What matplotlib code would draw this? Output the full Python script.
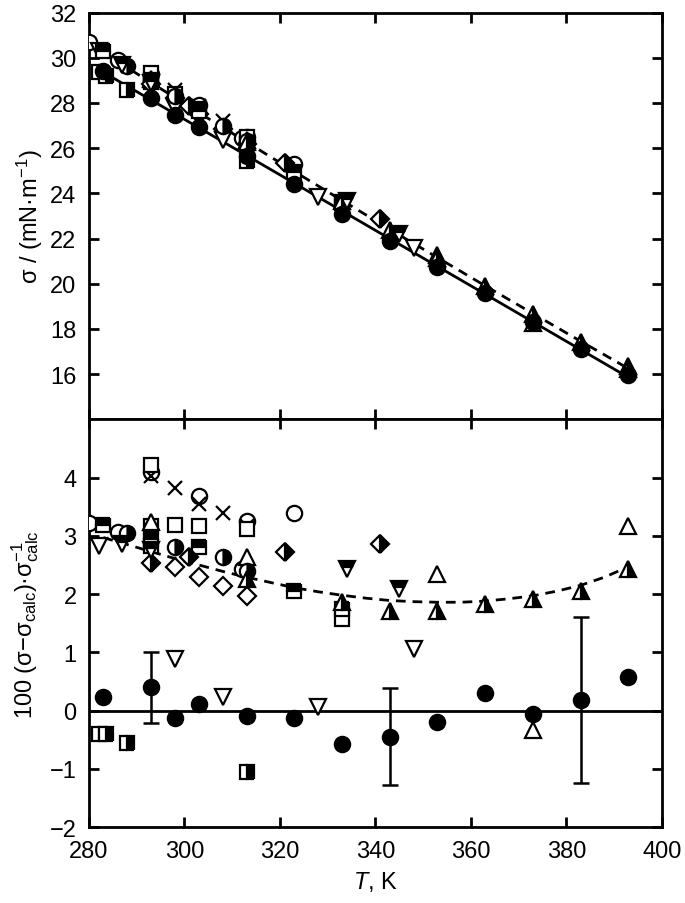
import numpy as np
import matplotlib.pyplot as plt

plt.rcParams['font.family'] = ['Liberation Sans', 'DejaVu Sans']
plt.rcParams['mathtext.fontset'] = 'custom'
plt.rcParams['mathtext.rm'] = 'Liberation Sans'
plt.rcParams['mathtext.it'] = 'Liberation Sans:italic'
plt.rcParams['font.size'] = 17

# fitted line sigma_calc (solid) and second fit (dashed), top panel
line_T = [283, 393]
line_sigma = [29.36, 15.86]
dash_T = [283, 303, 323, 343, 363, 383, 393]
dash_sigma = [30.23, 27.57, 24.97, 22.41, 19.91, 17.46, 16.25]

# dashed curve in deviation panel
dev_curve_T = [283, 288, 293, 298, 303, 308, 313, 318, 323, 328, 333, 338,
               343, 348, 353, 358, 363, 368, 373, 378, 383, 388, 393]
dev_curve = [2.97, 2.85, 2.73, 2.61, 2.50, 2.39, 2.29, 2.20, 2.11, 2.04, 1.98, 1.93,
             1.89, 1.87, 1.86, 1.86, 1.88, 1.92, 1.97, 2.05, 2.15, 2.29, 2.47]

# this work (filled circles)
fc_T = [283, 293, 298, 303, 313, 323, 333, 343, 353, 363, 373, 383, 393]
fc_sigma = [29.43, 28.24, 27.48, 26.93, 25.66, 24.42, 23.09, 21.89, 20.73, 19.60, 18.30, 17.12, 15.95]
fc_dev = [0.23, 0.40, -0.13, 0.11, -0.09, -0.13, -0.57, -0.45, -0.20, 0.30, -0.06, 0.18, 0.57]
err_T = [293, 343, 383]
err_dev = [0.40, -0.45, 0.18]
err_size = [0.61, 0.83, 1.42]

# literature sets
oc_T = [280, 286, 293, 303, 312, 313, 323]
oc_sigma = [30.69, 29.88, 29.28, 27.89, 26.46, 26.51, 25.28]
oc_dev = [3.22, 3.06, 4.09, 3.69, 2.43, 3.25, 3.39]

hc_T = [288, 298, 308, 313]
hc_sigma = [29.62, 28.29, 26.98, 26.30]
hc_dev = [3.05, 2.80, 2.63, 2.40]

x_T = [293, 298, 303, 308, 313]
x_sigma = [29.26, 28.57, 27.85, 27.18, 26.49]
x_dev = [4.03, 3.83, 3.55, 3.40, 3.17]

os_T = [293, 293, 298, 303, 313, 333]
os_sigma = [29.32, 29.02, 28.40, 27.75, 26.48, 23.58]
os_dev = [4.22, 3.17, 3.18, 3.17, 3.12, 1.57]

ts_T = [283, 293, 293, 303, 323, 333]
ts_sigma = [30.29, 28.96, 28.93, 27.65, 24.95, 23.63]
ts_dev = [3.18, 2.95, 2.83, 2.80, 2.06, 1.75]

rs_T = [282, 283.5, 288, 313]
rs_sigma = [29.36, 29.18, 28.58, 25.41]
rs_dev = [-0.40, -0.40, -0.55, -1.06]

od_T = [298, 303, 308, 313]
od_sigma = [28.20, 27.52, 26.85, 26.19]
od_dev = [2.46, 2.29, 2.14, 1.97]

hd_T = [293, 301, 321, 341]
hd_sigma = [28.84, 27.86, 25.36, 22.88]
hd_dev = [2.54, 2.63, 2.73, 2.86]

ot_T = [293, 313, 353, 373, 393]
ot_sigma = [29.04, 26.36, 21.26, 18.25, 16.36]
ot_dev = [3.23, 2.63, 2.34, -0.34, 3.17]

ht_T = [313, 333, 343, 353, 363, 373, 383, 393]
ht_sigma = [26.26, 23.65, 22.37, 21.13, 19.90, 18.66, 17.44, 16.25]
ht_dev = [2.26, 1.86, 1.71, 1.71, 1.83, 1.91, 2.06, 2.43]

odt_T = [282, 298, 308, 328, 348]
odt_sigma = [30.31, 27.76, 26.35, 23.85, 21.60]
odt_dev = [2.82, 0.88, 0.24, 0.06, 1.05]

hdt_T = [287, 293, 334, 345]
hdt_sigma = [29.70, 28.90, 23.66, 22.20]
hdt_dev = [2.86, 2.75, 2.43, 2.09]

fig = plt.figure(figsize=(6.85, 9.04), dpi=100)
ax1 = fig.add_axes([0.130, 0.535, 0.836, 0.450])
ax2 = fig.add_axes([0.130, 0.084, 0.836, 0.451])

mw = 1.6
styles = [
    (oc_T, oc_sigma, oc_dev, dict(marker='o', ms=11, mfc='white', mec='k', mew=mw)),
    (x_T, x_sigma, x_dev, dict(marker='x', ms=10, mec='k', mew=mw)),
    (os_T, os_sigma, os_dev, dict(marker='s', ms=10, mfc='white', mec='k', mew=mw)),
    (od_T, od_sigma, od_dev, dict(marker='D', ms=9, mfc='white', mec='k', mew=mw)),
    (ot_T, ot_sigma, ot_dev, dict(marker='^', ms=11, mfc='white', mec='k', mew=mw)),
    (odt_T, odt_sigma, odt_dev, dict(marker='v', ms=11, mfc='white', mec='k', mew=mw)),
    (ts_T, ts_sigma, ts_dev, dict(marker='s', ms=10, fillstyle='top', mfc='k', mfcalt='white', mec='k', mew=mw)),
    (rs_T, rs_sigma, rs_dev, dict(marker='s', ms=10, fillstyle='right', mfc='k', mfcalt='white', mec='k', mew=mw)),
    (hd_T, hd_sigma, hd_dev, dict(marker='D', ms=9, fillstyle='right', mfc='k', mfcalt='white', mec='k', mew=mw)),
    (hc_T, hc_sigma, hc_dev, dict(marker='o', ms=11, fillstyle='right', mfc='k', mfcalt='white', mec='k', mew=mw)),
    (ht_T, ht_sigma, ht_dev, dict(marker='^', ms=11, fillstyle='right', mfc='k', mfcalt='white', mec='k', mew=mw)),
    (hdt_T, hdt_sigma, hdt_dev, dict(marker='v', ms=11, fillstyle='top', mfc='k', mfcalt='white', mec='k', mew=mw)),
    (fc_T, fc_sigma, fc_dev, dict(marker='o', ms=11, mfc='k', mec='k', mew=mw)),
]

# top panel
ax1.plot(line_T, line_sigma, '-', color='k', lw=2, zorder=1)
ax1.plot(dash_T, dash_sigma, '--', color='k', lw=2, dashes=(3.5, 2.5), zorder=1)
for T, s, d, kw in styles:
    ax1.plot(T, s, ls='none', zorder=3, **kw)

# bottom panel
ax2.axhline(0, color='k', lw=2, zorder=1)
ax2.plot(dev_curve_T, dev_curve, '--', color='k', lw=2, dashes=(3.5, 2.5), zorder=1)
ax2.errorbar(err_T, err_dev, yerr=err_size, fmt='none', ecolor='k', elinewidth=1.8,
             capsize=6, capthick=1.8, zorder=2)
for T, s, d, kw in styles:
    ax2.plot(T, d, ls='none', zorder=3, **kw)

ax1.set_xlim(280, 400)
ax2.set_xlim(280, 400)
ax1.set_ylim(14, 32)
ax2.set_ylim(-2, 5)
ax1.set_yticks([16, 18, 20, 22, 24, 26, 28, 30, 32])
ax2.set_yticks([-2, -1, 0, 1, 2, 3, 4])
ax1.set_xticks([280, 300, 320, 340, 360, 380, 400])
ax2.set_xticks([280, 300, 320, 340, 360, 380, 400])
ax1.tick_params(labelbottom=False)

for ax in (ax1, ax2):
    for sp in ax.spines.values():
        sp.set_linewidth(2)
    ax.tick_params(direction='in', length=7, width=2, top=True, right=True,
                   labelsize=17, pad=9)

ax1.set_ylabel('σ / (mN·m$^{-1}$)', fontsize=17, labelpad=4)
ax2.set_ylabel('100 (σ−σ$_{\\mathrm{calc}}$)·σ$_{\\mathrm{calc}}^{-1}$', fontsize=17, labelpad=6)
ax2.set_xlabel('$T$, K', fontsize=17, labelpad=5)

fig.savefig('out.png', dpi=100)
